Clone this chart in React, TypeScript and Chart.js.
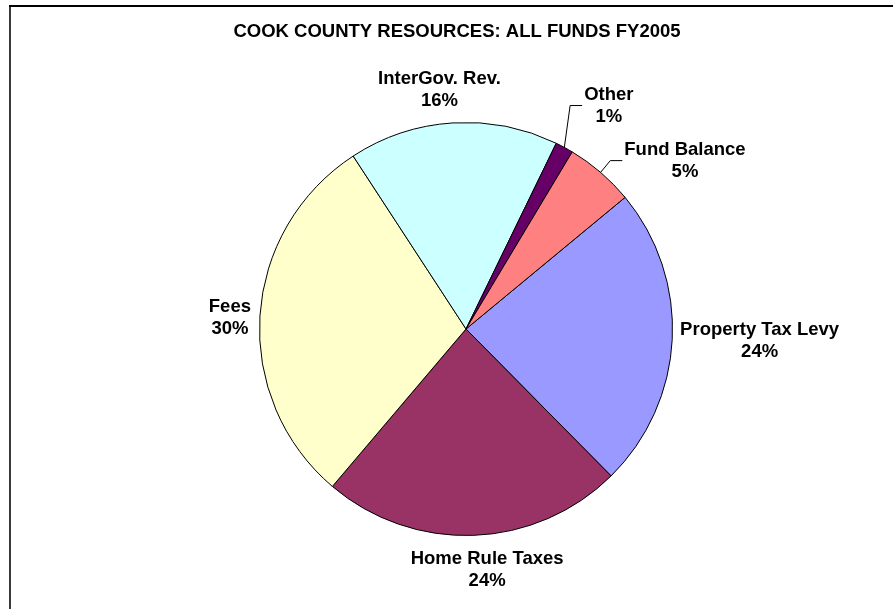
import React, { useEffect, useRef } from "react";
import { Chart, registerables } from "chart.js";

Chart.register(...registerables);

const chartTitle = "COOK COUNTY RESOURCES: ALL FUNDS FY2005";
const categories = ["Property Tax Levy", "Home Rule Taxes", "Fees", "InterGov. Rev.", "Other", "Fund Balance"];
const shares = [23.6, 23.6, 29.6, 16.4, 1.4, 5.4];
const sliceColors = ["#9999FF", "#993366", "#FFFFCC", "#CCFFFF", "#660066", "#FF8080"];
// label nudges [dx, dy] and leader-line flags (style only)
const labelNudges: [number, number][] = [[-4, 0], [10, 1], [3, 4], [-9, 1], [27, -12], [37, 14]];
const leaderLines = [false, false, false, false, true, true];

const FONT = "bold 18.5px 'Liberation Sans', Arial, sans-serif";

const decorPlugin = {
  id: "decor",
  afterDraw(chart: any) {
    const ctx = chart.ctx as CanvasRenderingContext2D;
    ctx.save();
    // frame
    ctx.fillStyle = "#3a3a3a";
    ctx.fillRect(9, 5, 2, 604);
    ctx.fillStyle = "#000";
    ctx.fillRect(9, 5, 884, 2);
    // title
    ctx.font = FONT;
    ctx.fillStyle = "#000";
    ctx.textAlign = "center";
    ctx.textBaseline = "alphabetic";
    ctx.fillText(chartTitle, 457, 36.5);

    const meta = chart.getDatasetMeta(0);
    const total = shares.reduce((a, b) => a + b, 0);
    meta.data.forEach((arc: any, i: number) => {
      const m = (arc.startAngle + arc.endAngle) / 2;
      const r = arc.outerRadius;
      const cx = arc.x;
      const cy = arc.y;
      const l1 = categories[i];
      const l2 = Math.round((shares[i] / total) * 100) + "%";
      const w = Math.max(ctx.measureText(l1).width, ctx.measureText(l2).width);
      const h = 44;
      const px = cx + (r + 12) * Math.cos(m);
      const py = cy + (r + 12) * Math.sin(m);
      const bx = px + (w / 2) * Math.cos(m) + labelNudges[i][0];
      const by = py + (h / 2) * Math.sin(m) + labelNudges[i][1];
      ctx.fillStyle = "#000";
      ctx.textAlign = "center";
      ctx.textBaseline = "middle";
      ctx.fillText(l1, bx, by - 11);
      ctx.fillText(l2, bx, by + 11);
      if (leaderLines[i]) {
        const left = bx - w / 2;
        ctx.strokeStyle = "#000";
        ctx.lineWidth = 1;
        ctx.beginPath();
        ctx.moveTo(cx + r * Math.cos(m), cy + r * Math.sin(m));
        ctx.lineTo(left - 14, by);
        ctx.lineTo(left - 2, by);
        ctx.stroke();
      }
    });
    ctx.restore();
  },
};

export default function App() {
  const ref = useRef<HTMLCanvasElement>(null);
  useEffect(() => {
    if (!ref.current) return;
    const chart = new Chart(ref.current, {
      type: "pie",
      data: {
        labels: categories,
        datasets: [
          {
            data: shares,
            backgroundColor: sliceColors,
            borderColor: "#000",
            borderWidth: 1,
            hoverOffset: 0,
            offset: 0,
          },
        ],
      },
      options: {
        responsive: false,
        animation: false,
        rotation: 50.4,
        layout: { padding: { left: 258, right: 219, top: 122, bottom: 73 } },
        plugins: {
          legend: { display: false },
          title: { display: false },
          tooltip: { enabled: false },
        },
        events: [],
      },
      plugins: [decorPlugin],
    });
    return () => chart.destroy();
  }, []);
  return (
    <div style={{ position: "fixed", left: 0, top: 0, width: 893, height: 609, background: "#fff" }}>
      <canvas ref={ref} width={893} height={609} style={{ display: "block" }} />
    </div>
  );
}
